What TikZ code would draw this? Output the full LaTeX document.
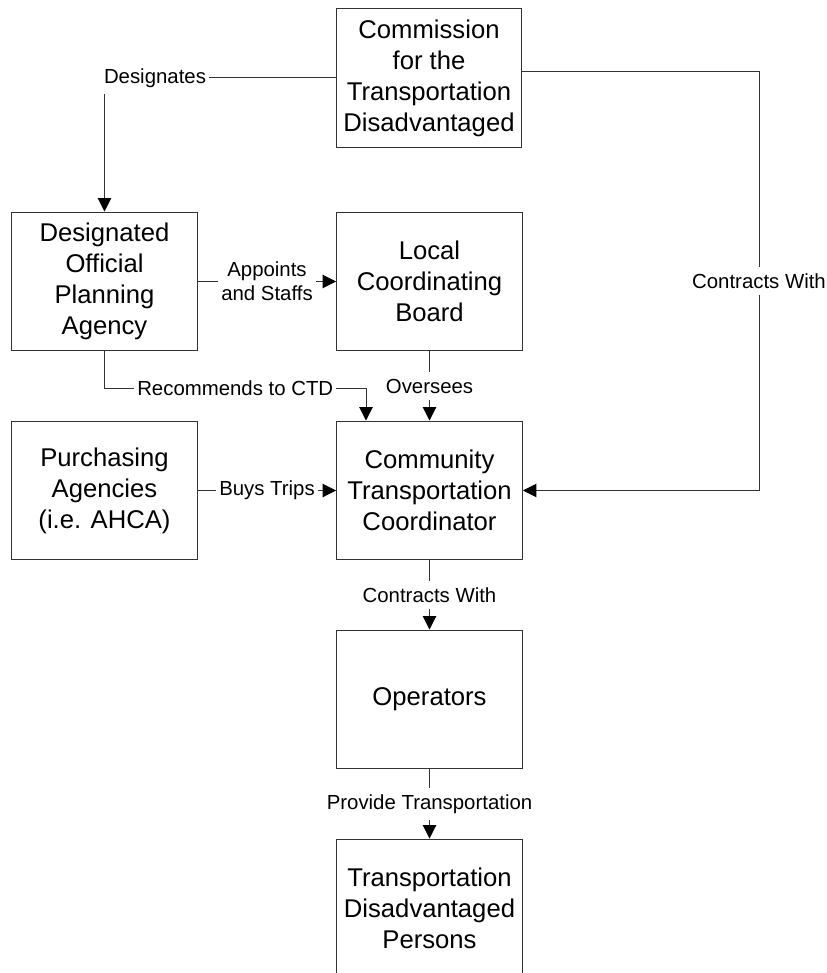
\documentclass[tikz,border=0pt]{standalone}
\usepackage{fontspec}
\setmainfont{Liberation Sans}
\usetikzlibrary{arrows.meta}

\tikzset{
  unit/.style={draw=black!80, line width=0.02cm, minimum width=3.72cm, minimum height=2.78cm,
    align=center, font=\fontsize{14.6pt}{17.6pt}\selectfont},
  rel/.style={fill=white, align=center, inner xsep=0.06cm, inner ysep=0.13cm,
    font=\fontsize{11.6pt}{13.9pt}\selectfont},
  link/.style={draw=black!80, line width=0.02cm, -{Triangle[length=0.27cm,width=0.27cm,color=black]}},
}

\begin{document}
\begin{tikzpicture}[x=0.02cm, y=-0.02cm]
    \useasboundingbox (0,0) rectangle (827,973);
    \clip (0,0) rectangle (827,973);
    % boxes
    \node[unit] (CTD) at (429,78) {Commission\\for the\\Transportation\\Disadvantaged};
    \node[unit] (DOPA) at (104.5,281.5) {Designated\\Official\\Planning\\Agency};
    \node[unit] (LCB) at (429.5,281.5) {Local\\Coordinating\\Board};
    \node[unit] (PA) at (104.5,490.5) {Purchasing\\Agencies\\(i.e. AHCA)};
    \node[unit] (CTC) at (429.5,490.5) {Community\\Transportation\\Coordinator};
    \node[unit] (OP) at (429.5,699.5) {Operators};
    \node[unit] (TDP) at (429.5,908.5) {Transportation\\Disadvantaged\\Persons};
    % bends
    \coordinate (R) at (366,388);
    \coordinate (C) at (759,72);
    % connectors
    \draw[link] (CTD.west) -| node[rel, anchor=west, pos=0.5, xshift=-0.08cm] {Designates} (DOPA.north);
    \draw[link] (DOPA.east) -- node[rel] {Appoints\\and Staffs} (LCB.west);
    \draw[link] (DOPA.south) |- node[rel, pos=0.75] {Recommends to CTD} (R) -- (R |- CTC.north);
    \draw[link] (LCB.south) -- node[rel] {Oversees} (CTC.north);
    \draw[link] (PA.east) -- node[rel] {Buys Trips} (CTC.west);
    \draw[link] (CTD.east |- C) -- (C) |- node[rel, pos=0.25] {Contracts With} (CTC.east);
    \draw[link] (CTC.south) -- node[rel] {Contracts With} (OP.north);
    \draw[link] (OP.south) -- node[rel] {Provide Transportation} (TDP.north);
\end{tikzpicture}
\end{document}
